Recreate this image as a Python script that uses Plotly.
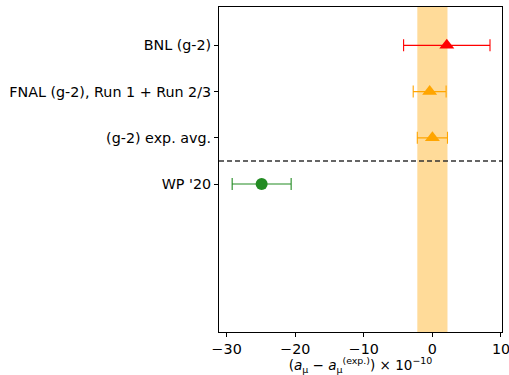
import plotly.graph_objects as go

# Measurements of the muon anomalous magnetic moment, relative to the experimental average
labels = ["WP '20", "(g-2) exp. avg.", "FNAL (g-2), Run 1 + Run 2/3", "BNL (g-2)"]
positions = [0, 1, 2, 3]
values = [-24.9, 0.0, -0.4, 2.1]
errors = [4.3, 2.2, 2.4, 6.3]
colors = ["#228B22", "#FFA500", "#FFA500", "#FF0000"]
symbols = ["circle", "triangle-up", "triangle-up", "triangle-up"]

band_half_width = 2.2   # experimental average uncertainty
separator_y = 0.5       # line between theory and experiment

fig = go.Figure()

for lab, y, v, e, c, s in zip(labels, positions, values, errors, colors, symbols):
    fig.add_trace(go.Scatter(
        x=[v], y=[y], mode="markers", name=lab,
        marker=dict(color=c, symbol=s, size=12 if s == "circle" else 13,
                    line=dict(width=0)),
        error_x=dict(type="data", array=[e], color=c, thickness=1.1, width=6),
        showlegend=False,
    ))

fig.add_shape(type="rect", xref="x", yref="paper",
              x0=-band_half_width, x1=band_half_width, y0=0, y1=1,
              fillcolor="rgba(255,165,0,0.4)", line=dict(width=0), layer="below")
fig.add_shape(type="line", xref="paper", yref="y", x0=0, x1=1,
              y0=separator_y, y1=separator_y,
              line=dict(color="#333333", width=1.4, dash="5px,3px"))

font = dict(family="DejaVu Sans", size=14.3, color="black")
fig.update_layout(
    width=509, height=375,
    margin=dict(l=219, r=7, t=7, b=43),
    paper_bgcolor="white", plot_bgcolor="white",
    font=font,
    xaxis=dict(
        range=[-31.12, 10.15], tickvals=[-30, -20, -10, 0, 10],
        ticks="outside", ticklen=4, tickcolor="black",
        ticklabeloverflow="allow",
        showgrid=False, zeroline=False, automargin=False,
        showline=True, linecolor="black", linewidth=1, mirror=True,
        title=dict(text="(<i>a</i><sub>μ</sub> − <i>a</i><sub>μ</sub><sup>(exp.)</sup>) × 10<sup>−10</sup>",
                   font=dict(family="DejaVu Sans", size=13.5, color="black"), standoff=4),
    ),
    yaxis=dict(
        range=[-3.2, 3.83], tickvals=positions, ticktext=labels,
        ticks="outside", ticklen=4, tickcolor="black",
        ticklabeloverflow="allow",
        showgrid=False, zeroline=False, automargin=False,
        showline=True, linecolor="black", linewidth=1, mirror=True,
    ),
)

fig.write_html("out.html")
